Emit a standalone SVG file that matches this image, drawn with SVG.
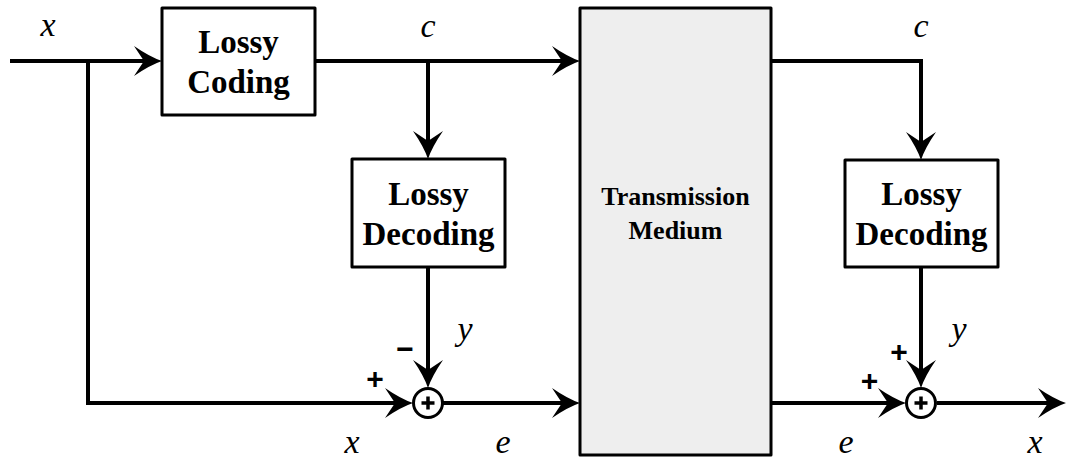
<svg xmlns="http://www.w3.org/2000/svg" width="1066" height="461" viewBox="0 0 1066 461">
<style>
.box{fill:#fff;stroke:#000;stroke-width:3;stroke-linejoin:round}
.med{fill:#eeeeee;stroke:#000;stroke-width:3;stroke-linejoin:round}
.bt{font-family:"Liberation Serif","Times New Roman",serif;font-weight:bold;font-size:33px;text-anchor:middle;fill:#000}
.mt{font-family:"Liberation Serif","Times New Roman",serif;font-weight:bold;font-size:26px;text-anchor:middle;fill:#000}
.var{font-family:"Liberation Serif","Times New Roman",serif;font-style:italic;font-size:34px;text-anchor:middle;fill:#000}
.sign{font-family:"Liberation Sans",Arial,sans-serif;font-weight:bold;font-size:30px;text-anchor:middle;fill:#000}
.ln{fill:none;stroke:#000;stroke-width:4;stroke-linejoin:miter}
.sum{fill:#fff;stroke:#000;stroke-width:3}
.sp{stroke:#000;stroke-width:3.5}
</style>
<defs>
<marker id="arr" markerUnits="userSpaceOnUse" markerWidth="32" markerHeight="32" viewBox="-12 -16 32 32" refX="0" refY="0" orient="auto">
<path d="M18,0 Q6,-4 -10,-15 L0,0 L-10,15 Q6,4 18,0 Z" fill="#000"/>
</marker>
</defs>
<g id="connectors">
<path class="ln" d="M10,61 H144" marker-end="url(#arr)"/>
<path class="ln" d="M88,61 V403 H395" marker-end="url(#arr)"/>
<path class="ln" d="M315,61 H562" marker-end="url(#arr)"/>
<path class="ln" d="M428,61 V141" marker-end="url(#arr)"/>
<path class="ln" d="M428,267 V370" marker-end="url(#arr)"/>
<path class="ln" d="M443,403 H562" marker-end="url(#arr)"/>
<path class="ln" d="M771,61 H921 V142" marker-end="url(#arr)"/>
<path class="ln" d="M921,267 V370" marker-end="url(#arr)"/>
<path class="ln" d="M771,403 H888" marker-end="url(#arr)"/>
<path class="ln" d="M937,403 H1048" marker-end="url(#arr)"/>
</g>
<g id="lossy-coding">
<rect class="box" x="162" y="8" width="153" height="107"/>
<text class="bt" x="238.5" y="53">Lossy</text>
<text class="bt" x="238.5" y="93">Coding</text>
</g>
<g id="lossy-decoding-1">
<rect class="box" x="352" y="159" width="153" height="108"/>
<text class="bt" x="428.5" y="205">Lossy</text>
<text class="bt" x="428.5" y="245">Decoding</text>
</g>
<g id="transmission-medium">
<rect class="med" x="580" y="8" width="191" height="447"/>
<text class="mt" x="675.5" y="205">Transmission</text>
<text class="mt" x="675.5" y="239">Medium</text>
</g>
<g id="lossy-decoding-2">
<rect class="box" x="845" y="160" width="153" height="107"/>
<text class="bt" x="921.5" y="205">Lossy</text>
<text class="bt" x="921.5" y="245">Decoding</text>
</g>
<g id="sum-1">
<circle class="sum" cx="428" cy="403" r="14.5"/>
<path class="sp" d="M421.5,403 H434.5 M428,396.5 V409.5"/>
</g>
<g id="sum-2">
<circle class="sum" cx="921" cy="403" r="14.5"/>
<path class="sp" d="M914.5,403 H927.5 M921,396.5 V409.5"/>
</g>
<g id="labels">
<text class="var" x="48" y="36">x</text>
<text class="var" x="428" y="37">c</text>
<text class="var" x="921" y="37">c</text>
<text class="var" x="465" y="340">y</text>
<text class="var" x="959" y="340">y</text>
<text class="var" x="352" y="453">x</text>
<text class="var" x="503" y="453">e</text>
<text class="var" x="846" y="453">e</text>
<text class="var" x="1035" y="453">x</text>
<text class="sign" x="405" y="359">−</text>
<text class="sign" x="375" y="389">+</text>
<text class="sign" x="899" y="362">+</text>
<text class="sign" x="869.5" y="391">+</text>
</g>
</svg>
